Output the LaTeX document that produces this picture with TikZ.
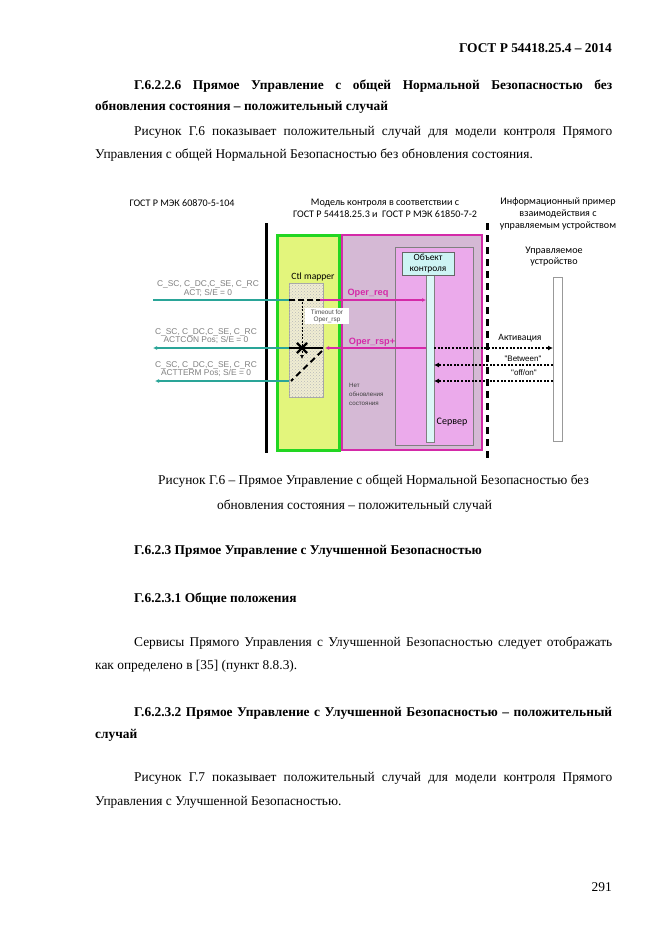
\documentclass[tikz,border=0pt]{standalone}
\usepackage{fontspec}
\setmainfont{Liberation Serif}
\newfontfamily\calfont{Carlito}
\newfontfamily\arfont{Liberation Sans}
\usetikzlibrary{arrows.meta,patterns,shapes.misc}

\definecolor{tealln}{HTML}{2AA598}
\definecolor{magln}{HTML}{D42AA8}
\definecolor{grnbrd}{HTML}{22D622}
\definecolor{grnfill}{HTML}{E3F57C}
\definecolor{lilac}{HTML}{D5B9D5}
\definecolor{pinkfill}{HTML}{EBAAEB}
\definecolor{cyanfill}{HTML}{CDF4F4}
\definecolor{mapfill}{HTML}{F0EDD2}

\begin{document}
\begin{tikzpicture}[x=1pt, y=-1pt,
  txt/.style={inner sep=0pt, anchor=base west, font=\fontsize{13.4}{16}\selectfont},
  bold/.style={txt, font=\fontsize{13.4}{16}\selectfont\bfseries},
  head/.style={inner sep=0pt, align=center, font=\calfont\fontsize{10.1}{12}\selectfont},
  clbl/.style={inner sep=0pt, align=center, text=gray, font=\arfont\fontsize{8.4}{8.8}\selectfont},
  maglbl/.style={inner sep=0pt, text=magln, font=\arfont\bfseries\fontsize{9.2}{10}\selectfont},
  small/.style={inner sep=0pt, font=\calfont\fontsize{9.6}{11}\selectfont},
  rect/.style={inner sep=0pt, outer sep=0pt},
  tealarr/.style={draw=tealln, line width=1.3pt, -{Latex[length=4pt,width=4pt]}},
  tealline/.style={draw=tealln, line width=1.3pt},
  magarr/.style={draw=magln, line width=1.3pt, -{Latex[length=4pt,width=4pt]}},
  dotarr/.style={line width=1.5pt, dash pattern=on 2pt off 1.6pt, -{Latex[length=5pt,width=5pt]}}
]
\useasboundingbox[fill=white] (0,0) rectangle (661,935);

% page text above the figure
\node[bold, anchor=base east] (gost) at (612,52) {ГОСТ Р 54418.25.4 – 2014};
\node[bold] (h1a) at (134,89) {\makebox[478pt][s]{Г.6.2.2.6 Прямое Управление с общей Нормальной Безопасностью без}};
\node[bold] (h1b) at (95,110) {обновления состояния – положительный случай};
\node[txt] (p1a) at (134,135) {\makebox[478pt][s]{Рисунок Г.6 показывает положительный случай для модели контроля Прямого}};
\node[txt] (p1b) at (95,158) {Управления с общей Нормальной Безопасностью без обновления состояния.};

% figure headings
\node[head] (iect) at (182,203) {ГОСТ Р МЭК 60870-5-104};
\node[head] (modt) at (385,208) {Модель контроля в соответствии с\\ГОСТ Р 54418.25.3 и\ \ ГОСТ Р МЭК 61850-7-2};
\node[head] (inft) at (558,214) {Информационный пример\\взаимодействия с\\управляемым устройством};
\node[head, font=\calfont\fontsize{10.1}{11}\selectfont] (devt) at (554,256.5) {Управляемое\\устройство};

% separators
\draw[line width=3pt] (266,223) -- (266,453);
\draw[line width=3pt, dash pattern=on 7pt off 5pt] (487,223) -- (487,458);

% boxes
\node[rect, draw=grnbrd, line width=3pt, fill=grnfill, minimum width=62pt, minimum height=215pt] (cim) at (308,342.5) {};
\node[rect, draw=magln, line width=2pt, fill=lilac, minimum width=140pt, minimum height=215pt] (mdl) at (412,342.5) {};
\node[rect, draw=gray, line width=1pt, fill=pinkfill, minimum width=78pt, minimum height=198pt] (srv) at (434,346) {};
\node[rect, draw=gray, line width=0.8pt, fill=cyanfill!70, minimum width=8pt, minimum height=167pt] (life) at (430,358.5) {};
\node[rect, draw=gray!80!black, line width=0.8pt, fill=cyanfill, minimum width=52pt, minimum height=23pt, align=center, font=\calfont\fontsize{9.4}{11.5}\selectfont] (obj) at (428,263.5) {Объект\\контроля};
\node[rect, draw=gray!70, line width=0.6pt, fill=mapfill, minimum width=34pt, minimum height=114pt,
  postaction={pattern=crosshatch dots, pattern color=gray!55}] (map) at (306,340) {};
\node[rect, draw=gray!80, line width=0.5pt, fill=white, minimum width=9pt, minimum height=164pt] (dev) at (557.5,359) {};

\node[small] (mapt) at (313,277) {Ctl mapper};
\node[small, font=\calfont\fontsize{10}{11}\selectfont] (srvt) at (452,422) {Сервер};
\node[small, align=left, anchor=west, font=\arfont\fontsize{6.2}{9}\selectfont, text=black!75] (nost) at (349,394) {Нет\\обновления\\состояния};
\node[rect, fill=white, minimum width=44pt, minimum height=16pt, align=center, font=\arfont\fontsize{6.4}{7}\selectfont, text=black!70] (tmo) at (327,316) {Timeout for\\Oper\_rsp};

% left labels
\node[clbl] (l1) at (208,288.5) {C\_SC, C\_DC,C\_SE, C\_RC\\ACT; S/E = 0};
\node[clbl] (l2) at (206,336) {C\_SC, C\_DC,C\_SE, C\_RC\\ACTCON Pos; S/E = 0};
\node[clbl] (l3) at (206,369) {C\_SC, C\_DC,C\_SE, C\_RC\\ACTTERM Pos; S/E = 0};

% row 1: request
\coordinate (q1) at (153,300);
\draw[tealline] (q1) -- (map.west |- q1);
\draw[line width=1.8pt, dash pattern=on 6pt off 3pt] (map.west |- q1) -- (map.east |- q1);
\draw[magarr] ([xshift=-3pt]map.east |- q1) -- (life.west |- q1);
\node[maglbl] (oreq) at (368,293) {Oper\_req};

% timer
\coordinate (t0) at (302,302);
\coordinate (t1) at (302,359);
\draw[line width=0.6pt, dash pattern=on 2pt off 1.5pt, -{Latex[length=4pt,width=4pt]}] (t0) -- (t1);

% row 2: response
\coordinate (q2) at (153,348);
\draw[magarr] (life.west |- q2) -- ([xshift=2pt]map.east |- q2);
\draw[line width=1.8pt] (map.west |- q2) -- (map.east |- q2);
\draw[tealarr] (map.west |- q2) -- (q2);
\node[draw, cross out, line width=2.2pt, minimum size=8pt, inner sep=0pt] (xx) at (302,348) {};
\node[maglbl] (orsp) at (372,342) {Oper\_rsp+};
\draw[dotarr] (life.east |- q2) -- (dev.west |- q2);
\node[small] (act) at (520,338) {Активация};

% dashed diagonal
\coordinate (d0) at (322,351);
\coordinate (d1) at (291,381);
\draw[line width=2pt, dash pattern=on 6pt off 4pt] (d0) -- (d1);

% rows 3-4: device state
\coordinate (q3) at (153,365);
\draw[dotarr] (dev.west |- q3) -- (life.east |- q3);
\node[small, font=\arfont\fontsize{8}{9}\selectfont] (btw) at (523,359) {"Between"};
\coordinate (q4) at (155,381);
\draw[tealarr] (map.west |- q4) -- (q4);
\draw[dotarr] (dev.west |- q4) -- (life.east |- q4);
\node[small, font=\arfont\fontsize{8}{9}\selectfont] (offon) at (524,373) {"off/on"};

% caption and text below
\node[txt] (c1) at (158,484) {Рисунок Г.6 – Прямое Управление с общей Нормальной Безопасностью без};
\node[txt] (c2) at (217,509) {обновления состояния – положительный случай};
\node[bold] (h2) at (134,554) {Г.6.2.3 Прямое Управление с Улучшенной Безопасностью};
\node[bold] (h3) at (134,602) {Г.6.2.3.1 Общие положения};
\node[txt] (p2a) at (134,646) {\makebox[478pt][s]{Сервисы Прямого Управления с Улучшенной Безопасностью следует отображать}};
\node[txt] (p2b) at (95,669) {как определено в [35] (пункт 8.8.3).};
\node[bold] (h4a) at (134,716) {\makebox[478pt][s]{Г.6.2.3.2 Прямое Управление с Улучшенной Безопасностью – положительный}};
\node[bold] (h4b) at (95,738) {случай};
\node[txt] (p3a) at (134,781) {\makebox[478pt][s]{Рисунок Г.7 показывает положительный случай для модели контроля Прямого}};
\node[txt] (p3b) at (95,805) {Управления с Улучшенной Безопасностью.};
\node[txt, anchor=base east] (pg) at (612,891) {291};
\end{tikzpicture}
\end{document}
